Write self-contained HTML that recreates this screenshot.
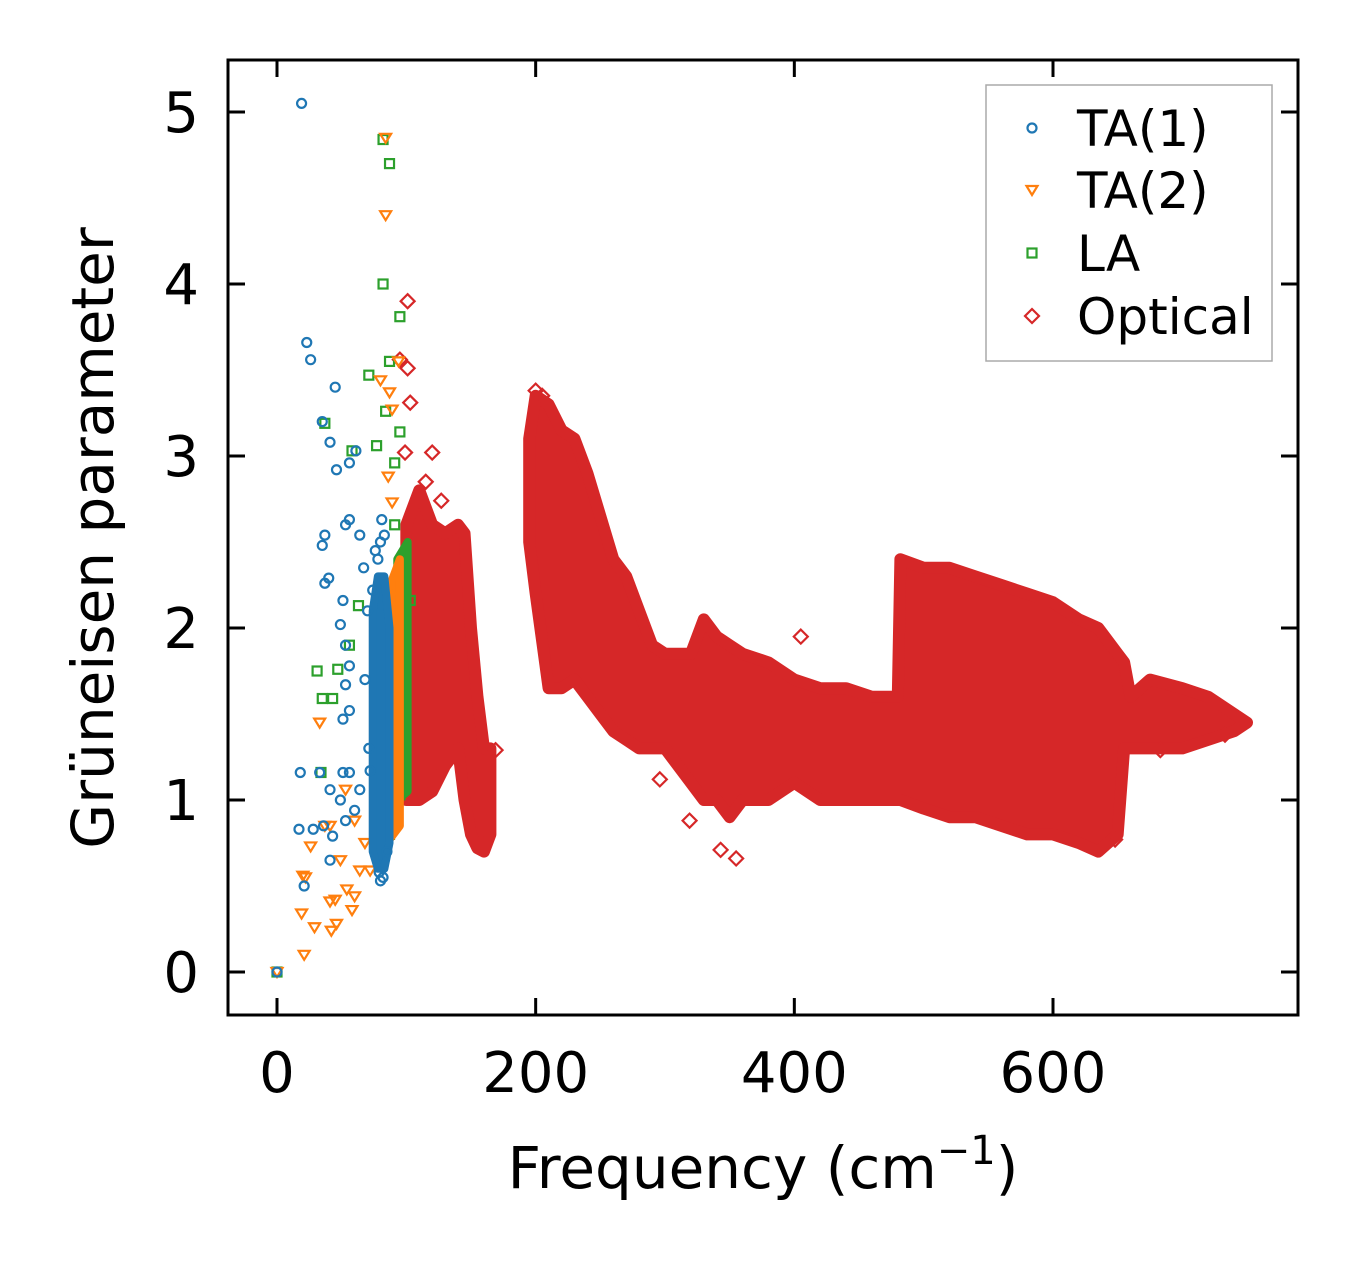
<!DOCTYPE html>
<html><head><meta charset="utf-8"><style>
html,body{margin:0;padding:0;background:#fff;}
svg text{font-family:"DejaVu Sans","Liberation Sans",sans-serif;fill:#000;}
</style></head><body>
<svg id="chart" width="1357" height="1264" xmlns="http://www.w3.org/2000/svg">
<rect width="1357" height="1264" fill="#fff"/>
<g id="marks"></g>
<g id="axes"></g>
</svg>
<script>
const xTicks=[0,200,400,600];
const yTicks=[0,1,2,3,4,5];
// Optical dense band: frequency, lower and upper gamma
const optF1=[100,110,120,130,140,145,150,155,160,165];
const optLo1=[1.0,1.0,1.05,1.2,1.3,1.0,0.8,0.72,0.7,0.8];
const optHi1=[2.6,2.8,2.6,2.55,2.6,2.55,2.0,1.6,1.3,1.3];
const optF2=[195,200,210,220,230,240,250,260,270,280,290,300,320,330,340,350,360,380,400,420,440,460,480,482,500,520,540,560,580,600,620,635,650,655,660,675,700,720,740,750];
const optLo2=[2.5,2.2,1.65,1.65,1.7,1.6,1.5,1.4,1.35,1.3,1.3,1.3,1.1,1.0,1.0,0.9,1.0,1.0,1.1,1.0,1.0,1.0,1.0,1.0,0.95,0.9,0.9,0.85,0.8,0.8,0.75,0.7,0.8,1.3,1.3,1.3,1.3,1.35,1.4,1.45];
const optHi2=[3.1,3.35,3.3,3.15,3.1,2.9,2.65,2.4,2.3,2.1,1.9,1.85,1.85,2.05,1.95,1.9,1.85,1.8,1.7,1.65,1.65,1.6,1.6,2.4,2.35,2.35,2.3,2.25,2.2,2.15,2.05,2.0,1.85,1.8,1.6,1.7,1.65,1.6,1.5,1.45];
const optF=[101,101,103,99,95,120,127,169,296,319,355,343,405,648,683,733,115,200,205];
const optG=[3.9,3.51,3.31,3.02,3.56,3.02,2.74,1.29,1.12,0.88,0.66,0.71,1.95,0.77,1.29,1.38,2.85,3.38,3.35];
// Acoustic dense columns
const ta1BandF=[74,78,83,87];const ta1BandLo=[0.7,0.6,0.6,0.75];const ta1BandHi=[2.1,2.3,2.3,2.0];
const ta2BandF=[85,95];const ta2BandLo=[0.75,0.85];const ta2BandHi=[2.2,2.4];
const laBandF=[93,101];const laBandLo=[1.0,1.05];const laBandHi=[2.4,2.5];
const ta1F=[19,23,26,35,41,45,46,56,61,37,35,53,56,64,40,37,51,49,53,56,53,56,51,18,33,51,56,41,49,17,28,36,43,41,21,53,60,64,72,80,81,83,78,74,0,67,70,76,80,82,85,79,71,68];
const ta1G=[5.05,3.66,3.56,3.2,3.08,3.4,2.92,2.96,3.03,2.54,2.48,2.6,2.63,2.54,2.29,2.26,2.16,2.02,1.9,1.78,1.67,1.52,1.47,1.16,1.16,1.16,1.16,1.06,1.0,0.83,0.83,0.85,0.79,0.65,0.5,0.88,0.94,1.06,1.17,0.53,2.63,2.54,2.4,2.22,0,2.35,2.1,2.45,2.5,0.55,0.7,0.58,1.3,1.7];
const ta2F=[84,84,80,87,89,94,86,89,33,26,20,22,29,19,21,42,45,41,46,54,58,60,64,37,41,49,68,72,53,60,0];
const ta2G=[4.85,4.4,3.44,3.37,3.27,3.55,2.88,2.73,1.45,0.73,0.56,0.55,0.26,0.34,0.1,0.24,0.42,0.41,0.28,0.48,0.36,0.44,0.59,0.85,0.85,0.65,0.75,0.59,1.06,0.88,0];
const laF=[82,87,82,95,71,87,84,95,77,37,58,91,91,31,47,35,43,34,56,103,87,95,63,0];
const laG=[4.84,4.7,4.0,3.81,3.47,3.55,3.26,3.14,3.06,3.19,3.03,2.96,2.6,1.75,1.76,1.59,1.59,1.16,1.9,2.16,0.8,1.03,2.13,0];

const L=228,R=1298,T=60,B=1015;
const X=v=>277+v*(1053-277)/600;
const Y=v=>972-v*172;
const NS='http://www.w3.org/2000/svg';
const marks=document.getElementById('marks');
const axes=document.getElementById('axes');
function mk(tag,attrs,parent){const e=document.createElementNS(NS,tag);for(const k in attrs)e.setAttribute(k,attrs[k]);parent.appendChild(e);return e;}
const C={ta1:'#1f77b4',ta2:'#ff7f0e',la:'#2ca02c',opt:'#d62728'};

function band(fs,lo,hi,color,name,sw){
  let pts=fs.map((f,i)=>X(f)+','+Y(hi[i]));
  for(let i=fs.length-1;i>=0;i--)pts.push(X(fs[i])+','+Y(lo[i]));
  const p=mk('polygon',{points:pts.join(' '),fill:color,stroke:color,'stroke-width':sw,'stroke-linejoin':'round'},marks);
  
  
}
function circle(cx,cy,color,parent){return mk('circle',{cx:cx,cy:cy,r:4.5,fill:'none',stroke:color,'stroke-width':2.2},parent);}
function tri(cx,cy,color,parent){return mk('polygon',{points:`${cx-5.5},${cy-4} ${cx+5.5},${cy-4} ${cx},${cy+5}`,fill:'none',stroke:color,'stroke-width':2.2},parent);}
function sq(cx,cy,color,parent){return mk('rect',{x:cx-4.5,y:cy-4.5,width:9,height:9,fill:'none',stroke:color,'stroke-width':2.2},parent);}
function dia(cx,cy,color,parent){return mk('polygon',{points:`${cx},${cy-7} ${cx+7},${cy} ${cx},${cy+7} ${cx-7},${cy}`,fill:'none',stroke:color,'stroke-width':2.2},parent);}

band(optF1,optLo1,optHi1,C.opt,'optical-band-low',12);
band(optF2,optLo2,optHi2,C.opt,'optical-band-high',12);
optF.forEach((f,i)=>{const e=dia(X(f),Y(optG[i]),C.opt,marks);

});
band(laBandF,laBandLo,laBandHi,C.la,'la-band',8);
laF.forEach((f,i)=>{const e=sq(X(f),Y(laG[i]),C.la,marks);

});
band(ta2BandF,ta2BandLo,ta2BandHi,C.ta2,'ta2-band',8);
ta2F.forEach((f,i)=>{const e=tri(X(f),Y(ta2G[i]),C.ta2,marks);

});
band(ta1BandF,ta1BandLo,ta1BandHi,C.ta1,'ta1-band',8);
ta1F.forEach((f,i)=>{const e=circle(X(f),Y(ta1G[i]),C.ta1,marks);

});

// frame
const fr=mk('rect',{x:L,y:T,width:R-L,height:B-T,fill:'none',stroke:'#000','stroke-width':3},axes);


xTicks.forEach(t=>{const x=X(t);
mk('line',{x1:x,y1:B,x2:x,y2:B-17,stroke:'#000','stroke-width':3},axes);
mk('line',{x1:x,y1:T,x2:x,y2:T+17,stroke:'#000','stroke-width':3},axes);
const tx=mk('text',{x:x,y:1092,'font-size':56,'text-anchor':'middle'},axes);tx.textContent=t;

});
yTicks.forEach(t=>{const y=Y(t);
mk('line',{x1:L,y1:y,x2:L+17,y2:y,stroke:'#000','stroke-width':3},axes);
mk('line',{x1:R,y1:y,x2:R-17,y2:y,stroke:'#000','stroke-width':3},axes);
const tx=mk('text',{x:199,y:y+20,'font-size':56,'text-anchor':'end'},axes);tx.textContent=t;

});
</script>
<svg style="position:absolute;left:0;top:0" width="1357" height="1264" xmlns="http://www.w3.org/2000/svg">
<text x="763" y="1188" font-size="58" text-anchor="middle" font-family="DejaVu Sans, Liberation Sans, sans-serif">Frequency (cm<tspan font-size="40" dy="-24">−1</tspan><tspan dy="24">)</tspan></text>
<text transform="translate(113,538) rotate(-90)" font-size="58" text-anchor="middle" font-family="DejaVu Sans, Liberation Sans, sans-serif">Grüneisen parameter</text>
<g>
<rect x="986" y="85" width="286" height="276" fill="#fff" fill-opacity="0.8" stroke="#aaa" stroke-width="1.5"/>
<circle cx="1032" cy="128" r="4.5" fill="none" stroke="#1f77b4" stroke-width="2.2"/>
<text x="1077" y="146" font-size="50" font-family="DejaVu Sans, Liberation Sans, sans-serif">TA(1)</text>
<polygon points="1026.5,186 1037.5,186 1032,195" fill="none" stroke="#ff7f0e" stroke-width="2.2"/>
<text x="1077" y="208" font-size="50" font-family="DejaVu Sans, Liberation Sans, sans-serif">TA(2)</text>
<rect x="1027.5" y="248.5" width="9" height="9" fill="none" stroke="#2ca02c" stroke-width="2.2"/>
<text x="1077" y="271" font-size="50" font-family="DejaVu Sans, Liberation Sans, sans-serif">LA</text>
<polygon points="1032,309 1039,316 1032,323 1025,316" fill="none" stroke="#d62728" stroke-width="2.2"/>
<text x="1077" y="334" font-size="50" font-family="DejaVu Sans, Liberation Sans, sans-serif">Optical</text>
</g>
</svg>
</body></html>
